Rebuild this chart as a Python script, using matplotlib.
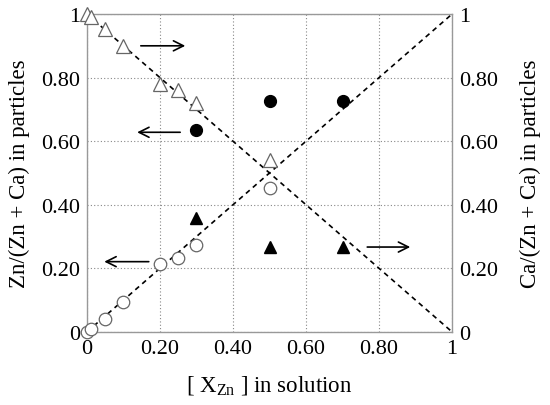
import matplotlib
matplotlib.use('Agg')
import matplotlib.pyplot as plt

plt.rcParams['font.family'] = 'Liberation Serif'
plt.rcParams['mathtext.fontset'] = 'custom'
plt.rcParams['mathtext.rm'] = 'Liberation Serif'
plt.rcParams['mathtext.it'] = 'Liberation Serif:italic'

# Zn fraction in solution
x_open = [0, 0.01, 0.05, 0.1, 0.2, 0.25, 0.3, 0.5]
# Zn/(Zn+Ca) in particles, open circles (left axis)
zn_open = [0.0, 0.01, 0.042, 0.093, 0.214, 0.234, 0.274, 0.454]
# Ca/(Zn+Ca) in particles, open triangles (right axis)
ca_open = [1.0, 0.99, 0.952, 0.90, 0.78, 0.762, 0.72, 0.54]

x_filled = [0.3, 0.5, 0.7]
zn_filled = [0.634, 0.727, 0.727]   # filled circles
ca_filled = [0.358, 0.268, 0.268]   # filled triangles

ticks = [0, 0.2, 0.4, 0.6, 0.8, 1]
tick_labels = ['0', '0.20', '0.40', '0.60', '0.80', '1']

fig = plt.figure(figsize=(5.5, 4.06), dpi=100)
ax = fig.add_axes([0.158, 0.180, 0.664, 0.783])
ax.set_xlim(0, 1)
ax.set_ylim(0, 1)
ax.set_xticks(ticks)
ax.set_xticklabels(tick_labels)
ax.set_yticks(ticks)
ax.set_yticklabels(tick_labels)
ax.tick_params(length=0, labelsize=16, pad=5)
ax.grid(True, linestyle=(0, (1, 2)), color='#888888', linewidth=0.8)
for s in ax.spines.values():
    s.set_color('#999999')
    s.set_linewidth(1.0)

# reference lines
ax.plot([0, 1], [0, 1], linestyle=(0, (3, 2.5)), color='black', lw=1.2)
ax.plot([0, 1], [1, 0], linestyle=(0, (3, 2.5)), color='black', lw=1.2)

ax.plot(x_open, zn_open, 'o', ms=9, mfc='white', mec='#666666', mew=0.9, clip_on=False, zorder=5)
ax.plot(x_open, ca_open, '^', ms=10, mfc='white', mec='#666666', mew=0.9, clip_on=False, zorder=5)
ax.plot(x_filled, zn_filled, 'o', ms=8.5, color='black', zorder=5)
ax.plot(x_filled, ca_filled, '^', ms=9, color='black', zorder=5)

# arrows indicating axes
arrow_kw = dict(arrowstyle='->', color='black', lw=1.2, mutation_scale=18)
ax.annotate('', xy=(0.277, 0.90), xytext=(0.14, 0.90), arrowprops=arrow_kw)
ax.annotate('', xy=(0.13, 0.628), xytext=(0.263, 0.628), arrowprops=arrow_kw)
ax.annotate('', xy=(0.04, 0.221), xytext=(0.177, 0.221), arrowprops=arrow_kw)
ax.annotate('', xy=(0.893, 0.267), xytext=(0.76, 0.267), arrowprops=arrow_kw)

ax.set_xlabel(r'[ X$_{\mathrm{Zn}}$ ] in solution', fontsize=16.5, labelpad=11)
ax.set_ylabel('Zn/(Zn + Ca) in particles', fontsize=16.5, labelpad=8)

ax2 = ax.twinx()
ax2.set_ylim(0, 1)
ax2.set_yticks(ticks)
ax2.set_yticklabels(tick_labels)
ax2.tick_params(length=0, labelsize=16, pad=5)
for s in ax2.spines.values():
    s.set_visible(False)
ax2.set_ylabel('Ca/(Zn + Ca) in particles', fontsize=16.5, labelpad=16)

fig.savefig('out.png', dpi=100, facecolor='white')
